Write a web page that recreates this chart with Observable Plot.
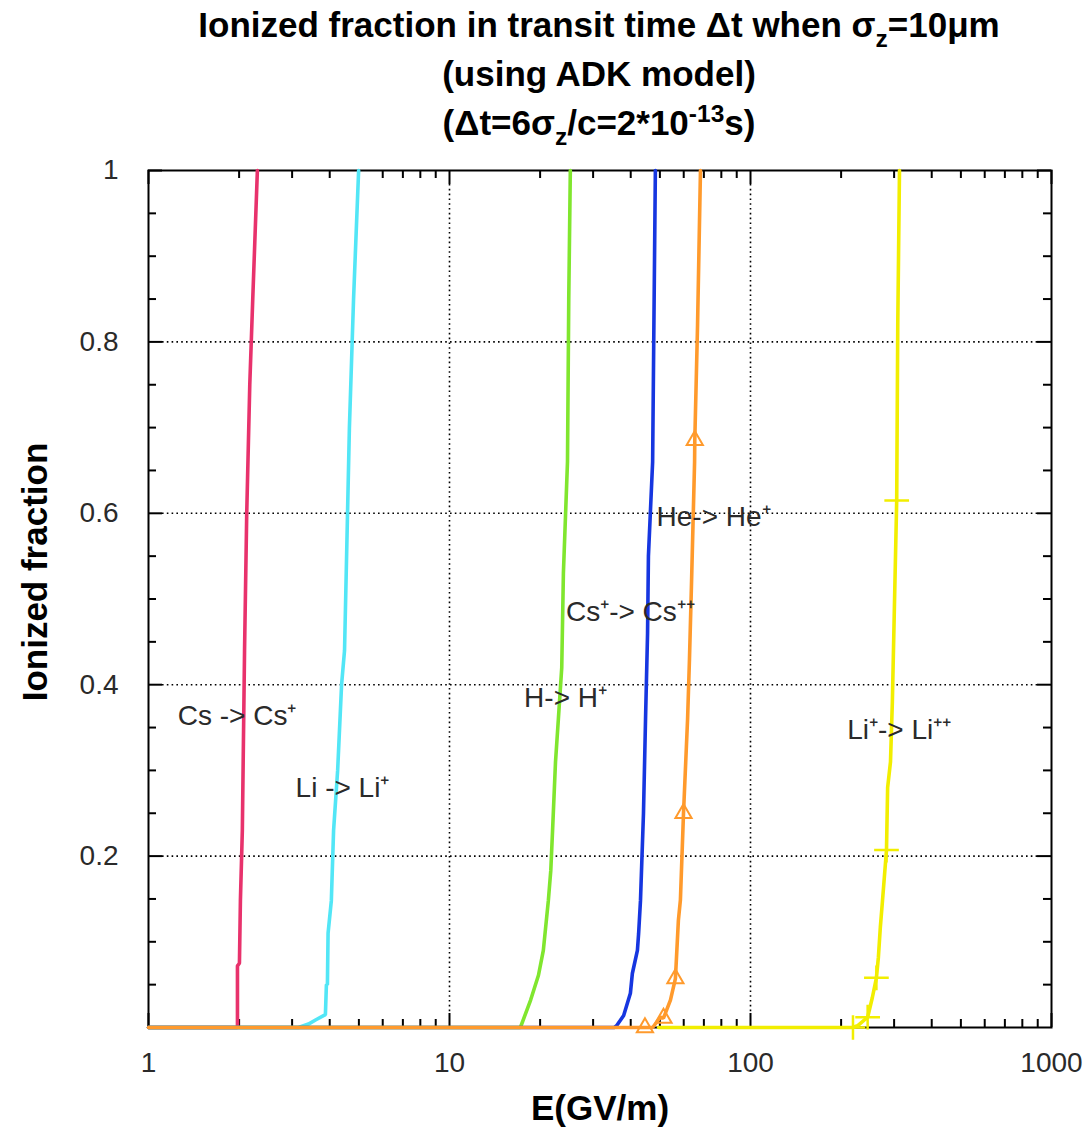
<!DOCTYPE html>
<html><head><meta charset="utf-8">
<script src="https://cdn.jsdelivr.net/npm/d3@7"></script>
<script src="https://cdn.jsdelivr.net/npm/@observablehq/plot@0.6"></script>
<style>
body{margin:0;background:#fff;width:1092px;height:1133px;overflow:hidden;position:relative}
#title{position:absolute;left:148px;top:0px;width:902px;text-align:center;font-family:"Liberation Sans Narrow","Arial Narrow","Liberation Sans",sans-serif;font-weight:bold;font-size:35px;line-height:49px;color:#000}
#title sub{font-size:0.7em;vertical-align:-0.4em;line-height:0}
#title sup{font-size:0.7em;vertical-align:0.55em;line-height:0}
#chart{position:absolute;left:0;top:160px}
</style></head>
<body>
<div id="title">Ionized fraction in transit time Δt when σ<sub>z</sub>=10μm<br>(using ADK model)<br>(Δt=6σ<sub>z</sub>/c=2*10<sup>-13</sup>s)</div>
<div id="chart"></div>
<script>
// ---- data (E in GV/m, ionized fraction) ----
const seriesNames = ["Cs -> Cs+", "Li -> Li+", "H -> H+", "Cs+ -> Cs++", "He -> He+", "Li+ -> Li++"];
const seriesColors = ["#e8326c", "#52e6f6", "#80e62e", "#1636e0", "#ff9a2c", "#f2ee00"];

const csE = [1, 1.975, 1.975, 2.005, 2.02, 2.05, 2.085, 2.12, 2.17, 2.22, 2.30];
const csF = [0, 0, 0.072, 0.075, 0.148, 0.23, 0.44, 0.60, 0.75, 0.85, 1];

const liE = [1, 3.15, 3.4, 3.6, 3.87, 3.9, 3.93, 3.95, 4.05, 4.12, 4.25, 4.38, 4.48, 4.65, 4.8, 4.99];
const liF = [0, 0, 0.004, 0.009, 0.015, 0.05, 0.05, 0.11, 0.148, 0.23, 0.30, 0.40, 0.44, 0.70, 0.85, 1];

const hE = [1, 17.2, 18.6, 19.75, 20.5, 21.3, 21.7, 22.0, 22.5, 23.0, 23.6, 23.9, 24.66, 24.9, 25.2];
const hF = [0, 0, 0.032, 0.061, 0.09, 0.148, 0.183, 0.23, 0.31, 0.36, 0.42, 0.53, 0.66, 0.85, 1];

const csPE = [1, 35.3, 35.9, 37.9, 39.9, 40.5, 42.1, 42.5, 43.1, 44.1, 44.8, 45.5, 45.8, 47.3, 47.7, 48.3];
const csPF = [0, 0, 0.002, 0.014, 0.04, 0.063, 0.09, 0.11, 0.148, 0.25, 0.36, 0.46, 0.55, 0.66, 0.80, 1];

const heE = [1, 44.8, 47.3, 50.2, 51.4, 54.2, 56.3, 57.6, 58.5, 59.9, 61.8, 62.7, 63.7, 65.2, 65.3, 66.7, 68.2];
const heF = [0, 0, 0, 0.012, 0.011, 0.032, 0.057, 0.125, 0.149, 0.25, 0.36, 0.43, 0.52, 0.66, 0.685, 0.82, 1];

const liPE = [49.5, 218, 226.7, 245, 254, 262, 266, 270, 274.5, 283, 285.5, 291.8, 296, 306, 308.5, 312.6];
const liPF = [0, 0, 0.002, 0.012, 0.035, 0.058, 0.082, 0.117, 0.148, 0.207, 0.28, 0.31, 0.38, 0.615, 0.82, 1];

// point markers
const heMarkE = [44.6, 51.4, 56.3, 59.9, 65.3];
const heMarkF = [0, 0.011, 0.057, 0.25, 0.685];
const liPMarkE = [219, 245, 262, 283, 306];
const liPMarkF = [0, 0.012, 0.058, 0.207, 0.615];

// curve labels
const labelText = ["Cs -> Cs⁺", "Li -> Li⁺", "H-> H⁺", "Cs⁺-> Cs⁺⁺", "He-> He⁺", "Li⁺-> Li⁺⁺"];
const labelE = [1.97, 4.41, 24.3, 39.9, 75.4, 312];
const labelF = [0.363, 0.28, 0.385, 0.485, 0.596, 0.347];

// axes
const xTickMajor = [1, 10, 100, 1000];
const xTickMinor = [2,3,4,5,6,7,8,9,20,30,40,50,60,70,80,90,200,300,400,500,600,700,800,900];
const xGrid = [10, 100];
const yTickMajor = [0.2, 0.4, 0.6, 0.8, 1];
const yTickMinor = [0.05,0.1,0.15,0.25,0.3,0.35,0.45,0.5,0.55,0.65,0.7,0.75,0.85,0.9,0.95];
const yGrid = [0.2, 0.4, 0.6, 0.8];
const xLabel = "E(GV/m)";
const yLabel = "Ionized fraction";

// ---- build tables ----
const allE = [csE, liE, hE, csPE, heE, liPE];
const allF = [csF, liF, hF, csPF, heF, liPF];
const seriesRows = allE.map((es, i) => es.map((e, j) => ({series: seriesNames[i], E: e, f: allF[i][j]})));
const heMarks = heMarkE.map((e, i) => ({E: e, f: heMarkF[i]}));
const liMarks = liPMarkE.map((e, i) => ({E: e, f: liPMarkF[i]}));
const labels = labelText.map((t, i) => ({t, E: labelE[i], f: labelF[i]}));

const W = 1092, H = 973, mL = 148, mR = 41, mT = 10, mB = 106;
const fw = W - mL - mR, fh = H - mT - mB;
const narrow = "'Liberation Sans Narrow','Arial Narrow','Liberation Sans',sans-serif";
const gridStyle = {stroke: "#000", strokeWidth: 1.6, strokeDasharray: "1.6,3.2"};
const tickStyle = {stroke: "#000", strokeWidth: 2};

const chart = Plot.plot({
  width: W, height: H,
  marginLeft: mL, marginRight: mR, marginTop: mT, marginBottom: mB,
  style: {fontFamily: "'Liberation Sans', Arial, sans-serif", background: "white", color: "#2a2a2a", overflow: "visible"},
  x: {type: "log", domain: [1, 1000]},
  y: {domain: [0, 1]},
  color: {domain: seriesNames, range: seriesColors},
  marks: [
    Plot.ruleX(xGrid, {x: d => d, ...gridStyle, insetTop: 14, insetBottom: 14}),
    Plot.ruleY(yGrid, {y: d => d, ...gridStyle, insetLeft: 14, insetRight: 14}),
    Plot.tickX(xTickMajor, {x: d => d, insetTop: fh - 14, ...tickStyle}),
    Plot.tickX(xTickMajor, {x: d => d, insetBottom: fh - 14, ...tickStyle}),
    Plot.tickX(xTickMinor, {x: d => d, insetTop: fh - 8, ...tickStyle}),
    Plot.tickX(xTickMinor, {x: d => d, insetBottom: fh - 8, ...tickStyle}),
    Plot.tickY(yTickMajor, {y: d => d, insetRight: fw - 14, ...tickStyle}),
    Plot.tickY(yTickMajor, {y: d => d, insetLeft: fw - 14, ...tickStyle}),
    Plot.tickY(yTickMinor, {y: d => d, insetRight: fw - 8, ...tickStyle}),
    Plot.tickY(yTickMinor, {y: d => d, insetLeft: fw - 8, ...tickStyle}),
    Plot.frame({stroke: "#000", strokeWidth: 2}),
    ...seriesRows.map(rows => Plot.line(rows, {x: "E", y: "f", stroke: "series", strokeWidth: 3.6, strokeLinejoin: "miter"})),
    Plot.dot(heMarks, {x: "E", y: "f", symbol: "triangle", r: 6, stroke: "#ff9a2c", strokeWidth: 2, fill: "none"}),
    Plot.dot(liMarks, {x: "E", y: "f", symbol: "plus", r: 8, stroke: "#f2ee00", strokeWidth: 2.5}),
    Plot.text(labels, {x: "E", y: "f", text: "t", fontSize: 28, fill: "#2a2a2a"}),
    Plot.axisX({ticks: xTickMajor, tickFormat: d => String(d), tickSize: 0, tickPadding: 25, fontSize: 28, label: null}),
    Plot.axisY({ticks: yTickMajor, tickFormat: d => String(d), tickSize: 0, tickPadding: 30, fontSize: 28, label: null}),
    Plot.text([xLabel], {text: d => d, frameAnchor: "bottom", lineAnchor: "middle", textAnchor: "middle", dy: 81, fontSize: 35, fontWeight: "bold", fontFamily: narrow, fill: "#000"}),
    Plot.text([yLabel], {text: d => d, frameAnchor: "left", textAnchor: "middle", lineAnchor: "middle", dx: -113, dy: -27, rotate: -90, fontSize: 35, fontWeight: "bold", fontFamily: narrow, fill: "#000"})
  ]
});
document.getElementById("chart").appendChild(chart);
</script>
</body></html>
